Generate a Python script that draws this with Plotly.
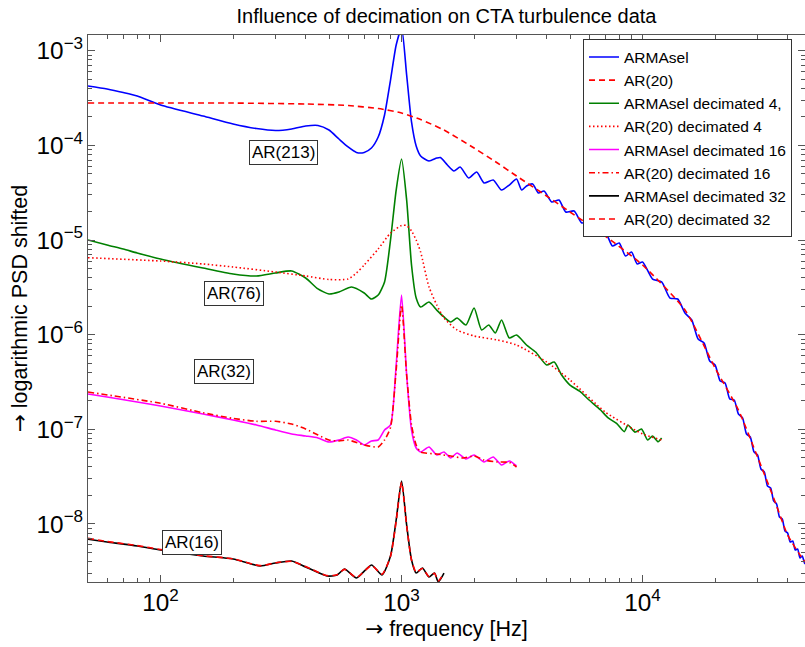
import numpy as np
import plotly.graph_objects as go

# ---- data (frequency in Hz, log10 of shifted PSD) ----
f_armasel = [50, 60, 70, 80, 100, 150, 200, 250, 300, 350, 400, 450, 500, 550, 600, 650, 700, 750, 800, 850,
             900, 950, 1000, 1050, 1100, 1150, 1200, 1300, 1400, 1450, 1550, 1650, 1750, 1900, 2050, 2200,
             2400, 2600, 2800, 3000, 3150, 3300, 3500, 3700, 3900, 4200, 4500, 4800, 5200, 5600, 6000, 6500,
             7000, 7500, 8000, 8500, 9000, 9500, 10000, 11000, 12000, 13000, 14000, 15000, 16000, 17000,
             18000, 19000, 20000, 21000, 22000, 23000, 24000, 25000, 26000, 27000, 28000, 29000, 30000,
             31000, 32000, 33000, 34000, 35000, 36000, 37000, 38000, 39000, 40000, 41000, 42000, 43000,
             44000, 45000, 46000, 47000, 48000]
lg_armasel = [-3.373, -3.405, -3.442, -3.479, -3.574, -3.690, -3.774, -3.822, -3.843, -3.827, -3.796, -3.790,
              -3.838, -3.933, -4.017, -4.075, -4.075, -4.028, -3.912, -3.679, -3.310, -2.940, -2.760, -3.257,
              -3.753, -4.007, -4.112, -4.165, -4.134, -4.128, -4.208, -4.271, -4.229, -4.345, -4.281, -4.398,
              -4.366, -4.472, -4.419, -4.355, -4.472, -4.429, -4.408, -4.503, -4.482, -4.598, -4.577, -4.704,
              -4.693, -4.820, -4.799, -4.936, -4.915, -5.063, -5.032, -5.169, -5.127, -5.253, -5.232, -5.412,
              -5.443, -5.613, -5.623, -5.771, -5.845, -6.046, -6.088, -6.278, -6.320, -6.489, -6.510, -6.679,
              -6.690, -6.838, -6.880, -7.049, -7.081, -7.239, -7.271, -7.419, -7.451, -7.599, -7.620, -7.757,
              -7.789, -7.926, -7.947, -8.074, -8.095, -8.190, -8.180, -8.275, -8.264, -8.359, -8.338, -8.412,
              -8.433]

f_ar20 = [50, 100, 200, 400, 600, 800, 1000, 1200, 1500, 2000, 2500, 3000, 4000, 5000, 7000, 10000, 15000,
          20000, 25000, 30000, 35000, 40000, 45000, 48000]
lg_ar20 = [-3.553, -3.553, -3.553, -3.563, -3.579, -3.611, -3.658, -3.727, -3.838, -4.028, -4.186, -4.324,
           -4.535, -4.704, -4.958, -5.264, -5.739, -6.352, -6.796, -7.292, -7.725, -8.116, -8.327, -8.423]

f_dec4 = [50, 60, 70, 80, 100, 150, 200, 250, 300, 350, 400, 450, 500, 550, 620, 700, 750, 800, 850, 900, 950,
          1000, 1050, 1100, 1150, 1200, 1300, 1400, 1500, 1600, 1700, 1850, 2000, 2150, 2300, 2450, 2600, 2800,
          3000, 3300, 3600, 4000, 4300, 4600, 5000, 5500, 6000, 6700, 7200, 7800, 8400, 8700, 9300, 9900,
          10500, 11000, 11600, 12000]
lg_dec4 = [-5.000, -5.053, -5.095, -5.137, -5.201, -5.296, -5.359, -5.380, -5.348, -5.327, -5.401, -5.517,
           -5.570, -5.549, -5.496, -5.560, -5.623, -5.581, -5.443, -5.000, -4.472, -4.144, -4.577, -5.264,
           -5.613, -5.708, -5.655, -5.740, -5.813, -5.866, -5.824, -5.898, -5.718, -5.951, -5.898, -5.982,
           -5.845, -6.035, -6.003, -6.109, -6.183, -6.320, -6.290, -6.420, -6.532, -6.600, -6.690, -6.796,
           -6.880, -6.936, -7.025, -6.954, -7.030, -6.996, -7.113, -7.070, -7.131, -7.092]

f_ar20_dec4 = [50, 100, 150, 200, 300, 400, 500, 600, 650, 700, 800, 900, 1000, 1050, 1100, 1150, 1200, 1300,
               1400, 1500, 1700, 2000, 2500, 3000, 4000, 5000, 7000, 9000, 10000, 12000]
lg_ar20_dec4 = [-5.187, -5.222, -5.253, -5.285, -5.338, -5.380, -5.417, -5.412, -5.348, -5.264, -5.095, -4.926,
                -4.847, -4.847, -4.905, -5.000, -5.127, -5.496, -5.686, -5.824, -5.951, -6.014, -6.056, -6.109,
                -6.289, -6.479, -6.817, -6.986, -7.049, -7.113]

f_dec16 = [50, 60, 80, 100, 150, 200, 250, 300, 350, 400, 450, 500, 550, 600, 650, 700, 750, 800, 850, 900, 950,
           1000, 1050, 1100, 1150, 1200, 1300, 1400, 1500, 1600, 1700, 1850, 2000, 2200, 2400, 2600, 2800, 3000]
lg_dec16 = [-6.627, -6.658, -6.711, -6.753, -6.838, -6.901, -6.954, -7.007, -7.049, -7.070, -7.091, -7.134,
            -7.113, -7.081, -7.113, -7.165, -7.123, -7.113, -7.007, -6.954, -6.320, -5.581, -6.426, -7.007,
            -7.197, -7.239, -7.187, -7.271, -7.239, -7.303, -7.250, -7.313, -7.271, -7.345, -7.292, -7.377,
            -7.334, -7.387]

f_ar20_dec16 = [50, 100, 150, 200, 250, 300, 350, 400, 450, 500, 550, 600, 700, 800, 850, 900, 950, 1000, 1050,
                1100, 1150, 1200, 1400, 1600, 1800, 2000, 2200, 2500, 2800, 3000]
lg_ar20_dec16 = [-6.606, -6.725, -6.825, -6.885, -6.915, -6.915, -6.944, -6.996, -7.060, -7.113, -7.123, -7.113,
                 -7.165, -7.187, -7.113, -6.980, -6.373, -5.686, -6.426, -6.954, -7.165, -7.239, -7.261, -7.282,
                 -7.303, -7.282, -7.324, -7.345, -7.350, -7.398]

f_dec32 = [50, 60, 80, 100, 150, 200, 259, 300, 350, 400, 490, 540, 580, 650, 750, 830, 900, 950, 1000, 1050,
           1100, 1150, 1220, 1300, 1370, 1420, 1500]
lg_dec32 = [-8.162, -8.190, -8.232, -8.275, -8.338, -8.370, -8.444, -8.412, -8.391, -8.454, -8.549, -8.540,
            -8.475, -8.570, -8.433, -8.539, -8.338, -7.958, -7.546, -8.011, -8.380, -8.518, -8.465, -8.560,
            -8.518, -8.613, -8.518]

f_ar20_dec32 = [50, 60, 80, 100, 150, 200, 259, 300, 350, 400, 490, 540, 580, 650, 750, 830, 900, 950, 1000,
                1050, 1100, 1150, 1220, 1300, 1370, 1420, 1500]
lg_ar20_dec32 = [-8.150, -8.185, -8.228, -8.270, -8.335, -8.368, -8.440, -8.410, -8.395, -8.450, -8.545, -8.536,
                 -8.480, -8.565, -8.440, -8.530, -8.340, -7.970, -7.560, -8.020, -8.380, -8.510, -8.470, -8.555,
                 -8.520, -8.600, -8.520]

series = [
    ("ARMAsel", f_armasel, lg_armasel, "#0000ff", "solid"),
    ("AR(20)", f_ar20, lg_ar20, "#ff0000", "6px,4px"),
    ("ARMAsel decimated 4,", f_dec4, lg_dec4, "#008000", "solid"),
    ("AR(20) decimated 4", f_ar20_dec4, lg_ar20_dec4, "#ff0000", "1.5px,2.5px"),
    ("ARMAsel decimated 16", f_dec16, lg_dec16, "#ff00ff", "solid"),
    ("AR(20) decimated 16", f_ar20_dec16, lg_ar20_dec16, "#ff0000", "6px,3px,1.5px,3px"),
    ("ARMAsel decimated 32", f_dec32, lg_dec32, "#000000", "solid"),
    ("AR(20) decimated 32", f_ar20_dec32, lg_ar20_dec32, "#ff0000", "6px,4px"),
]

labels = ["AR(213)", "AR(76)", "AR(32)", "AR(16)"]
label_f = [325, 201, 183, 135]
label_psd = [8.5e-5, 2.75e-6, 4.13e-7, 6.45e-9]

FONT = "Liberation Sans, Arial, Helvetica, sans-serif"
ARROW = '<span style="font-family:DejaVu Sans">→</span>'
AXC = "#555555"

fig = go.Figure()
for name, f, lg, col, dash in series:
    fig.add_trace(go.Scatter(
        x=f, y=10 ** np.array(lg), mode="lines", name=name,
        line=dict(color=col, width=1.6, dash=dash, shape="spline", smoothing=0.6),
    ))

for txt, lf, lp in zip(labels, label_f, label_psd):
    fig.add_annotation(x=np.log10(lf), y=np.log10(lp), xref="x", yref="y", text=txt, showarrow=False,
                       font=dict(family=FONT, size=17, color="black"), bgcolor="white",
                       bordercolor="#333333", borderwidth=1, borderpad=2)

axis_common = dict(
    type="log", dtick=1, exponentformat="power", showexponent="all",
    showline=True, linecolor=AXC, linewidth=1, mirror="ticks",
    ticks="inside", ticklen=7, tickwidth=1, tickcolor=AXC,
    minor=dict(ticks="inside", ticklen=4, tickwidth=1, tickcolor=AXC, dtick="D1", showgrid=False),
    showgrid=False, zeroline=False,
    tickfont=dict(family=FONT, size=19.5, color="black"),
)

fig.update_layout(
    width=805, height=647,
    margin=dict(l=88, r=0, t=35, b=65),
    plot_bgcolor="white", paper_bgcolor="white",
    font=dict(family=FONT, size=19, color="black"),
    title=dict(text="Influence of decimation on CTA turbulence data", x=0.5, xref="paper", xanchor="center",
               y=1 - 16 / 647, yref="container", yanchor="middle",
               font=dict(family=FONT, size=20, color="black")),
    xaxis=dict(axis_common, range=[np.log10(50), 4.6741],
               title=dict(text=ARROW + " frequency [Hz]", font=dict(family=FONT, size=21.5), standoff=4)),
    yaxis=dict(axis_common, range=[-8.613, -2.834],
               title=dict(text=ARROW + " logarithmic PSD shifted", font=dict(family=FONT, size=21.5),
                          standoff=3)),
    legend=dict(x=(583 - 88) / (805 - 88), y=0.992, xanchor="left", yanchor="top",
                bgcolor="white", bordercolor="#333333", borderwidth=1,
                font=dict(family=FONT, size=15.5, color="black"), itemwidth=30, tracegroupgap=0),
)

fig.write_html("out.html")
